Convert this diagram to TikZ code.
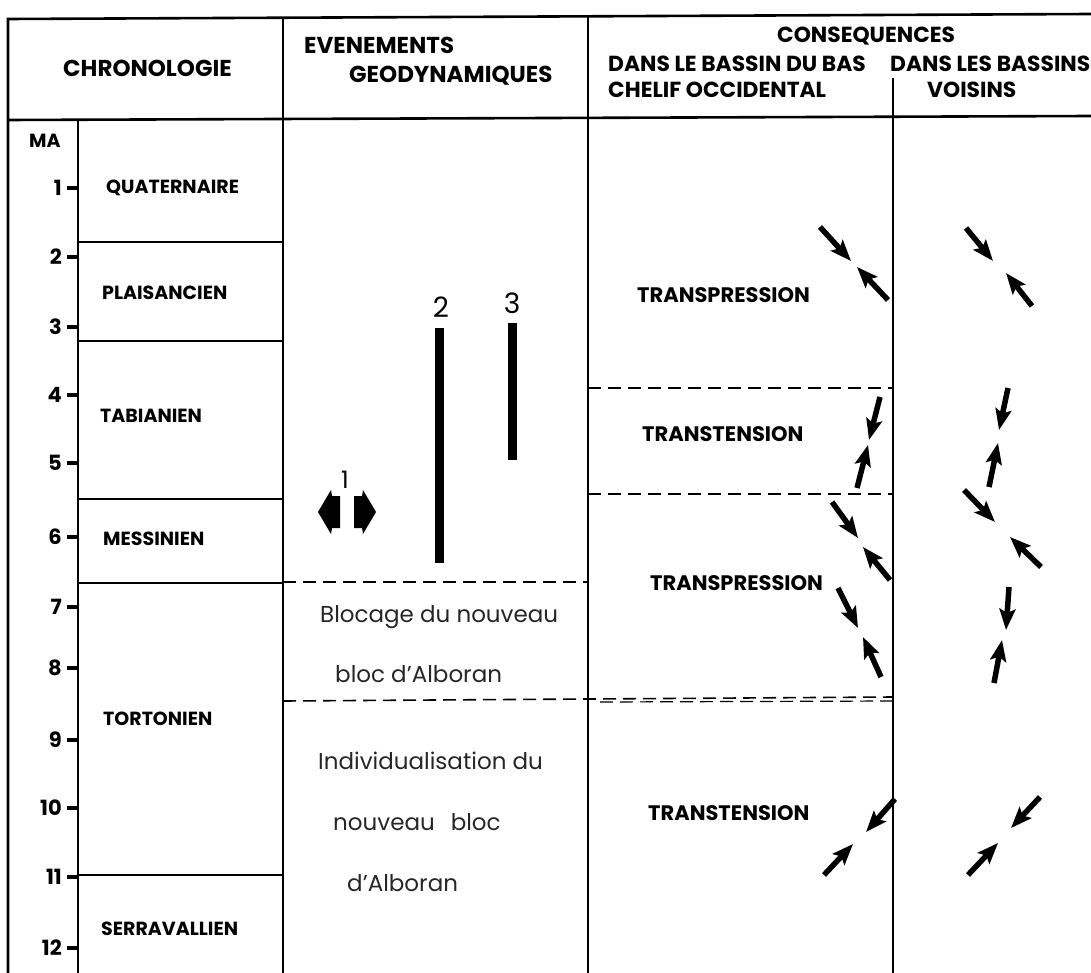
\documentclass[tikz,border=0pt]{standalone}
\usepackage{fontspec}
\setmainfont{Poppins}
\usetikzlibrary{arrows.meta}
\begin{document}
\begin{tikzpicture}[x=1pt,y=-1pt,
  frame/.style={line width=2.6pt},
  rule/.style={line width=1.8pt},
  dash line/.style={line width=1.6pt,dash pattern=on 13pt off 7pt},
  tick/.style={line width=3.2pt},
  bar/.style={line width=9pt},
  ar/.style={line width=5.5pt,-{Stealth[length=21pt,width=16pt,inset=4pt]}},
  hdr/.style={inner sep=0pt,anchor=base west,font=\fontsize{23}{26}\selectfont\bfseries},
  hdrs/.style={inner sep=0pt,anchor=base west,font=\fontsize{21.8}{26}\selectfont\bfseries},
  stage/.style={inner sep=0pt,anchor=base west,font=\fontsize{19}{22}\selectfont\bfseries},
  cons/.style={inner sep=0pt,anchor=base west,font=\fontsize{21}{24}\selectfont\bfseries},
  body/.style={inner sep=0pt,anchor=base west,text=black!85,font=\fontsize{23}{26}\selectfont},
  num/.style={inner sep=0pt,anchor=east,font=\fontsize{21}{24}\selectfont\bfseries},
  lab/.style={inner sep=0pt,font=\fontsize{28}{30}\selectfont}
]
\useasboundingbox (0,0) rectangle (1091,973);

% frame
\draw[frame] (8,973) -- (8,19) -- (1091,14);
\draw[frame] (8,120) -- (1091,116);
\draw[rule] (78,120) -- (78,973);
\draw[rule] (283,18) -- (283,973);
\draw[rule] (588,16) -- (588,973);
\draw[rule] (893,78) -- (893,973);

% stage boundaries
\foreach \y in {242,341,499,583,875} \draw[rule] (78,\y) -- (283,\y);

% dashed boundaries
\draw[dash line] (283,582) -- (588,582);
\draw[dash line] (283,701) -- (893,697);
\draw[dash line,line width=1.2pt] (600,702) -- (893,701);
\draw[dash line] (588,388) -- (893,388);
\draw[dash line] (588,494) -- (893,494);

% header texts
\node[hdr] (hchr) at (63,77) {CHRONOLOGIE};
\node[hdr] (hev1) at (304,54) {EVENEMENTS};
\node[hdr] (hev2) at (349,83) {GEODYNAMIQUES};
\node[hdrs] (hcon) at (777,43) {CONSEQUENCES};
\node[hdrs] (hb1) at (608,72) {DANS LE BASSIN DU BAS};
\node[hdrs] (hb2) at (608,98) {CHELIF OCCIDENTAL};
\node[hdrs] (hv1) at (890,72) {DANS LES BASSINS};
\node[hdrs] (hv2) at (927,98) {VOISINS};

% axis
\node[inner sep=0pt,anchor=base west,font=\fontsize{19}{22}\selectfont\bfseries] (ma) at (29,148) {MA};
\foreach \n/\y in {1/188,2/257,3/327,4/395,5/463,6/537,7/607,8/668,9/740,10/808,11/877,12/948}{
  \node[num] (t\n) at (62,\y) {\n};
  \draw[tick] (67,\y) -- (78,\y);
}

% stages
\node[stage] (sq) at (106,194) {QUATERNAIRE};
\node[stage] (sp) at (102,300) {PLAISANCIEN};
\node[stage] (st) at (100,422) {TABIANIEN};
\node[stage] (sm) at (103,545) {MESSINIEN};
\node[stage] (sto) at (103,725) {TORTONIEN};
\node[stage] (ss) at (101,935) {SERRAVALLIEN};

% geodynamic events
\node[lab] (l2) at (441,307) {2};
\node[lab] (l3) at (512,303) {3};
\node[inner sep=0pt,font=\fontsize{24}{26}\selectfont] (l1) at (345,480) {1};
\draw[bar] (439,328) -- (439,563);
\draw[bar] (512,323) -- (512,460);
\fill (318,512) -- (331,490) -- (332,496) -- (340,496) -- (340,528) -- (332,528) -- (331,534) -- cycle;
\fill (376,512) -- (363,490) -- (362,496) -- (354,496) -- (354,528) -- (362,528) -- (363,534) -- cycle;

\node[body] (b1) at (320,622) {Blocage du nouveau};
\node[body] (b2) at (335,682) {bloc d'Alboran};
\node[body] (i1) at (318,769) {Individualisation du};
\node[body] (i2) at (333,830) {nouveau\hspace{16pt}bloc};
\node[body] (i3) at (347,891) {d'Alboran};

% consequences
\node[cons] (c1) at (637,302) {TRANSPRESSION};
\node[cons] (c2) at (642,441) {TRANSTENSION};
\node[cons] (c3) at (650,590) {TRANSPRESSION};
\node[cons] (c4) at (648,820) {TRANSTENSION};

% stress arrows, basin
\draw[ar] (820,227) -- (851,261);
\draw[ar] (888,300) -- (857,267);
\draw[ar] (880,397) -- (869,440);
\draw[ar] (857,488) -- (868,445);
\draw[ar] (832,502) -- (858,538);
\draw[ar] (890,580) -- (863,547);
\draw[ar] (838,588) -- (858,628);
\draw[ar] (881,677) -- (863,637);
\draw[ar] (895,799) -- (866,832);
\draw[ar] (824,875) -- (853,844);
% stress arrows, neighbouring basins
\draw[ar] (966,228) -- (993,261);
\draw[ar] (1032,306) -- (1006,273);
\draw[ar] (1008,388) -- (999,430);
\draw[ar] (989,487) -- (998,443);
\draw[ar] (964,490) -- (995,522);
\draw[ar] (1041,567) -- (1010,537);
\draw[ar] (1009,587) -- (1006,630);
\draw[ar] (994,683) -- (1002,640);
\draw[ar] (1040,797) -- (1011,828);
\draw[ar] (968,875) -- (998,843);
\end{tikzpicture}
\end{document}
